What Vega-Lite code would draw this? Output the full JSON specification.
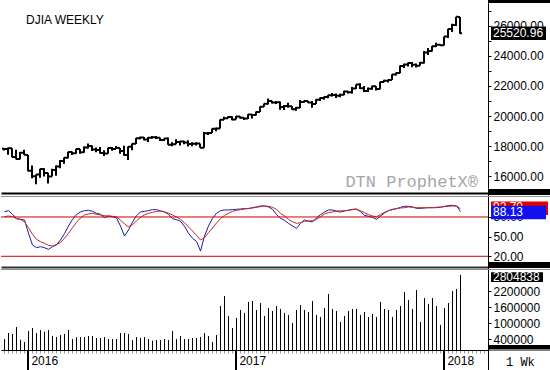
{
"$schema": "https://vega.github.io/schema/vega-lite/v6.json",
"padding": 0,
"spacing": 0,
"bounds": "flush",
"config": {"view": {"stroke": null}, "axis": {"labelFont": "Liberation Sans", "labelFontSize": 12, "labelColor": "#000", "domainColor": "#000", "tickColor": "#000", "grid": false}},
"data": {"values": [
{"d":"2015-11-23","o":17813,"h":17853,"l":17700,"c":17798,"v":410000,"k":88.1,"s":80.5},
{"d":"2015-11-30","o":17798,"h":17900,"l":17420,"c":17848,"v":634000,"k":89.7,"s":81.5},
{"d":"2015-12-07","o":17848,"h":17850,"l":17250,"c":17265,"v":597000,"k":84.1,"s":80.5},
{"d":"2015-12-14","o":17265,"h":17750,"l":17120,"c":17128,"v":858000,"k":77.5,"s":77.5},
{"d":"2015-12-21","o":17128,"h":17600,"l":17120,"c":17552,"v":385000,"k":76.4,"s":76.4},
{"d":"2015-12-28","o":17552,"h":17750,"l":17420,"c":17425,"v":299000,"k":75.4,"s":72.4},
{"d":"2016-01-04","o":17405,"h":17405,"l":16314,"c":16346,"v":709000,"k":55.1,"s":63.7},
{"d":"2016-01-11","o":16346,"h":16700,"l":15842,"c":15988,"v":821000,"k":37.2,"s":53.5},
{"d":"2016-01-18","o":15988,"h":16100,"l":15450,"c":16094,"v":634000,"k":33.2,"s":45.9},
{"d":"2016-01-25","o":16094,"h":16486,"l":15880,"c":16466,"v":746000,"k":34.7,"s":42.3},
{"d":"2016-02-01","o":16466,"h":16510,"l":15960,"c":16205,"v":684000,"k":33.2,"s":39.8},
{"d":"2016-02-08","o":16205,"h":16210,"l":15503,"c":15974,"v":746000,"k":30.6,"s":36.7},
{"d":"2016-02-15","o":15974,"h":16480,"l":15970,"c":16392,"v":522000,"k":34.7,"s":35.7},
{"d":"2016-02-22","o":16392,"h":16700,"l":16010,"c":16640,"v":485000,"k":37.7,"s":37.7},
{"d":"2016-02-29","o":16640,"h":17062,"l":16510,"c":17006,"v":560000,"k":44.9,"s":41.3},
{"d":"2016-03-07","o":17006,"h":17240,"l":16820,"c":17213,"v":597000,"k":54.6,"s":47.4},
{"d":"2016-03-14","o":17213,"h":17620,"l":17180,"c":17602,"v":746000,"k":66.2,"s":55.1},
{"d":"2016-03-21","o":17602,"h":17640,"l":17400,"c":17516,"v":410000,"k":76.4,"s":63.7},
{"d":"2016-03-28","o":17516,"h":17820,"l":17480,"c":17792,"v":473000,"k":83.6,"s":71.9},
{"d":"2016-04-04","o":17792,"h":17800,"l":17480,"c":17577,"v":485000,"k":87.6,"s":78.5},
{"d":"2016-04-11","o":17577,"h":17970,"l":17550,"c":17897,"v":485000,"k":89.7,"s":83.1},
{"d":"2016-04-18","o":17897,"h":18167,"l":17830,"c":18003,"v":522000,"k":90.2,"s":84.6},
{"d":"2016-04-25","o":18003,"h":18040,"l":17660,"c":17773,"v":522000,"k":88.6,"s":85.6},
{"d":"2016-05-02","o":17773,"h":17900,"l":17580,"c":17740,"v":448000,"k":85.6,"s":84.1},
{"d":"2016-05-09","o":17740,"h":17930,"l":17500,"c":17535,"v":448000,"k":84.1,"s":83.1},
{"d":"2016-05-16","o":17535,"h":17720,"l":17330,"c":17500,"v":485000,"k":79.0,"s":82.0},
{"d":"2016-05-23","o":17500,"h":17890,"l":17490,"c":17873,"v":410000,"k":81.5,"s":81.5},
{"d":"2016-05-30","o":17873,"h":17930,"l":17680,"c":17807,"v":410000,"k":80.5,"s":81.0},
{"d":"2016-06-06","o":17807,"h":18000,"l":17800,"c":17865,"v":410000,"k":78.5,"s":80.0},
{"d":"2016-06-13","o":17865,"h":17870,"l":17480,"c":17675,"v":634000,"k":66.2,"s":75.4},
{"d":"2016-06-20","o":17675,"h":18010,"l":17356,"c":17400,"v":634000,"k":51.0,"s":69.3},
{"d":"2016-06-27","o":17400,"h":17960,"l":17063,"c":17949,"v":597000,"k":60.1,"s":65.2},
{"d":"2016-07-04","o":17949,"h":18170,"l":17710,"c":18147,"v":373000,"k":72.4,"s":68.3},
{"d":"2016-07-11","o":18147,"h":18540,"l":18140,"c":18516,"v":485000,"k":82.0,"s":73.9},
{"d":"2016-07-18","o":18516,"h":18620,"l":18450,"c":18571,"v":448000,"k":87.6,"s":79.5},
{"d":"2016-07-25","o":18571,"h":18600,"l":18380,"c":18432,"v":485000,"k":88.6,"s":83.1},
{"d":"2016-08-01","o":18432,"h":18600,"l":18260,"c":18544,"v":410000,"k":89.7,"s":85.6},
{"d":"2016-08-08","o":18544,"h":18670,"l":18500,"c":18577,"v":348000,"k":91.2,"s":87.1},
{"d":"2016-08-15","o":18577,"h":18670,"l":18470,"c":18553,"v":373000,"k":91.2,"s":88.6},
{"d":"2016-08-22","o":18553,"h":18570,"l":18330,"c":18395,"v":373000,"k":89.2,"s":89.2},
{"d":"2016-08-29","o":18395,"h":18500,"l":18330,"c":18492,"v":410000,"k":87.6,"s":88.1},
{"d":"2016-09-05","o":18492,"h":18560,"l":18080,"c":18085,"v":373000,"k":84.1,"s":85.6},
{"d":"2016-09-12","o":18085,"h":18250,"l":17990,"c":18124,"v":709000,"k":77.5,"s":83.1},
{"d":"2016-09-19","o":18124,"h":18450,"l":18110,"c":18262,"v":410000,"k":75.9,"s":80.0},
{"d":"2016-09-26","o":18262,"h":18350,"l":18030,"c":18308,"v":522000,"k":73.4,"s":76.4},
{"d":"2016-10-03","o":18308,"h":18350,"l":18120,"c":18240,"v":410000,"k":65.7,"s":71.3},
{"d":"2016-10-10","o":18240,"h":18390,"l":17960,"c":18138,"v":410000,"k":55.1,"s":64.7},
{"d":"2016-10-17","o":18138,"h":18250,"l":17990,"c":18145,"v":448000,"k":47.4,"s":58.6},
{"d":"2016-10-24","o":18145,"h":18250,"l":18040,"c":18161,"v":448000,"k":42.8,"s":52.0},
{"d":"2016-10-31","o":18161,"h":18170,"l":17880,"c":17888,"v":485000,"k":28.1,"s":44.9},
{"d":"2016-11-07","o":17888,"h":18934,"l":17880,"c":18847,"v":634000,"k":51.0,"s":48.4},
{"d":"2016-11-14","o":18847,"h":18930,"l":18740,"c":18868,"v":522000,"k":66.2,"s":56.1},
{"d":"2016-11-21","o":18868,"h":19165,"l":18860,"c":19152,"v":299000,"k":78.0,"s":63.2},
{"d":"2016-11-28","o":19152,"h":19225,"l":18980,"c":19171,"v":560000,"k":85.6,"s":70.8},
{"d":"2016-12-05","o":19171,"h":19760,"l":19160,"c":19757,"v":1642000,"k":89.7,"s":77.5},
{"d":"2016-12-12","o":19757,"h":19953,"l":19750,"c":19843,"v":2015000,"k":90.7,"s":82.5},
{"d":"2016-12-19","o":19843,"h":19987,"l":19840,"c":19934,"v":1269000,"k":90.7,"s":85.6},
{"d":"2016-12-26","o":19934,"h":19980,"l":19720,"c":19763,"v":821000,"k":91.2,"s":88.6},
{"d":"2017-01-02","o":19763,"h":19999,"l":19760,"c":19964,"v":1194000,"k":91.7,"s":90.2},
{"d":"2017-01-09","o":19964,"h":19990,"l":19830,"c":19886,"v":1493000,"k":92.2,"s":91.2},
{"d":"2017-01-16","o":19886,"h":19890,"l":19730,"c":19827,"v":1381000,"k":92.7,"s":92.2},
{"d":"2017-01-23","o":19827,"h":20125,"l":19800,"c":20094,"v":1791000,"k":92.7,"s":93.2},
{"d":"2017-01-30","o":20094,"h":20100,"l":19830,"c":20071,"v":1828000,"k":94.2,"s":93.7},
{"d":"2017-02-06","o":20071,"h":20298,"l":20040,"c":20269,"v":1493000,"k":95.3,"s":94.8},
{"d":"2017-02-13","o":20269,"h":20639,"l":20260,"c":20624,"v":1754000,"k":96.8,"s":95.8},
{"d":"2017-02-20","o":20624,"h":20840,"l":20620,"c":20822,"v":1269000,"k":96.8,"s":96.8},
{"d":"2017-02-27","o":20822,"h":21169,"l":20770,"c":21005,"v":1567000,"k":95.3,"s":96.3},
{"d":"2017-03-06","o":21005,"h":21010,"l":20830,"c":20903,"v":1455000,"k":91.7,"s":94.8},
{"d":"2017-03-13","o":20903,"h":21000,"l":20800,"c":20914,"v":1642000,"k":83.6,"s":91.7},
{"d":"2017-03-20","o":20914,"h":20960,"l":20410,"c":20597,"v":1530000,"k":78.0,"s":85.6},
{"d":"2017-03-27","o":20597,"h":20740,"l":20400,"c":20663,"v":1381000,"k":74.9,"s":81.5},
{"d":"2017-04-03","o":20663,"h":20890,"l":20550,"c":20656,"v":1306000,"k":70.3,"s":76.4},
{"d":"2017-04-10","o":20656,"h":20670,"l":20410,"c":20453,"v":1007000,"k":66.2,"s":72.9},
{"d":"2017-04-17","o":20453,"h":20600,"l":20350,"c":20548,"v":1493000,"k":62.7,"s":70.3},
{"d":"2017-04-24","o":20548,"h":21070,"l":20540,"c":20941,"v":1679000,"k":70.3,"s":71.3},
{"d":"2017-05-01","o":20941,"h":21030,"l":20880,"c":21007,"v":1493000,"k":75.4,"s":73.4},
{"d":"2017-05-08","o":21007,"h":21010,"l":20860,"c":20897,"v":1418000,"k":73.4,"s":73.9},
{"d":"2017-05-15","o":20897,"h":21000,"l":20550,"c":20804,"v":1828000,"k":72.4,"s":74.4},
{"d":"2017-05-22","o":20804,"h":21110,"l":20800,"c":21080,"v":1306000,"k":78.5,"s":76.4},
{"d":"2017-05-29","o":21080,"h":21230,"l":21000,"c":21206,"v":1231000,"k":83.6,"s":80.5},
{"d":"2017-06-05","o":21206,"h":21305,"l":21090,"c":21272,"v":1567000,"k":87.6,"s":84.6},
{"d":"2017-06-12","o":21272,"h":21400,"l":21180,"c":21384,"v":2090000,"k":90.7,"s":86.6},
{"d":"2017-06-19","o":21384,"h":21530,"l":21300,"c":21395,"v":1530000,"k":90.7,"s":87.6},
{"d":"2017-06-26","o":21395,"h":21500,"l":21200,"c":21350,"v":1455000,"k":88.6,"s":89.2},
{"d":"2017-07-03","o":21350,"h":21480,"l":21250,"c":21414,"v":1045000,"k":87.6,"s":89.2},
{"d":"2017-07-10","o":21414,"h":21680,"l":21380,"c":21638,"v":1269000,"k":89.2,"s":89.7},
{"d":"2017-07-17","o":21638,"h":21640,"l":21500,"c":21580,"v":1455000,"k":90.2,"s":90.2},
{"d":"2017-07-24","o":21580,"h":21929,"l":21500,"c":21830,"v":1530000,"k":91.7,"s":91.2},
{"d":"2017-07-31","o":21830,"h":22100,"l":21800,"c":22092,"v":1530000,"k":92.2,"s":91.7},
{"d":"2017-08-07","o":22092,"h":22180,"l":21800,"c":21858,"v":1306000,"k":88.1,"s":89.7},
{"d":"2017-08-14","o":21858,"h":22000,"l":21600,"c":21675,"v":1418000,"k":82.5,"s":86.6},
{"d":"2017-08-21","o":21675,"h":21900,"l":21600,"c":21814,"v":1231000,"k":81.0,"s":83.6},
{"d":"2017-08-28","o":21814,"h":22010,"l":21750,"c":21988,"v":1343000,"k":79.5,"s":81.5},
{"d":"2017-09-04","o":21988,"h":21990,"l":21700,"c":21798,"v":1231000,"k":76.4,"s":80.5},
{"d":"2017-09-11","o":21798,"h":22290,"l":21790,"c":22268,"v":1791000,"k":81.5,"s":83.6},
{"d":"2017-09-18","o":22268,"h":22420,"l":22250,"c":22350,"v":1530000,"k":86.1,"s":87.1},
{"d":"2017-09-25","o":22350,"h":22420,"l":22240,"c":22405,"v":1493000,"k":89.7,"s":89.7},
{"d":"2017-10-02","o":22405,"h":22780,"l":22400,"c":22773,"v":1231000,"k":91.7,"s":91.2},
{"d":"2017-10-09","o":22773,"h":22905,"l":22700,"c":22871,"v":1493000,"k":92.7,"s":92.7},
{"d":"2017-10-16","o":22871,"h":23370,"l":22850,"c":23329,"v":1642000,"k":94.8,"s":93.7},
{"d":"2017-10-23","o":23329,"h":23485,"l":23200,"c":23434,"v":2164000,"k":96.3,"s":94.2},
{"d":"2017-10-30","o":23434,"h":23560,"l":23300,"c":23539,"v":1866000,"k":96.3,"s":95.3},
{"d":"2017-11-06","o":23539,"h":23600,"l":23250,"c":23422,"v":1530000,"k":95.3,"s":94.8},
{"d":"2017-11-13","o":23422,"h":23500,"l":23240,"c":23358,"v":2239000,"k":93.2,"s":94.2},
{"d":"2017-11-20","o":23358,"h":23600,"l":23350,"c":23558,"v":1045000,"k":93.2,"s":94.2},
{"d":"2017-11-27","o":23558,"h":24330,"l":23500,"c":24231,"v":1940000,"k":93.7,"s":94.2},
{"d":"2017-12-04","o":24231,"h":24534,"l":24060,"c":24329,"v":1716000,"k":94.2,"s":94.2},
{"d":"2017-12-11","o":24329,"h":24670,"l":24300,"c":24651,"v":1940000,"k":94.2,"s":94.2},
{"d":"2017-12-18","o":24651,"h":24876,"l":24600,"c":24754,"v":1642000,"k":94.2,"s":94.8},
{"d":"2017-12-25","o":24754,"h":24800,"l":24700,"c":24719,"v":933000,"k":94.8,"s":95.3},
{"d":"2018-01-01","o":24719,"h":25300,"l":24700,"c":25295,"v":1567000,"k":96.3,"s":95.8},
{"d":"2018-01-08","o":25295,"h":25810,"l":25200,"c":25803,"v":1754000,"k":97.3,"s":96.3},
{"d":"2018-01-15","o":25803,"h":26153,"l":25600,"c":26071,"v":2201000,"k":97.8,"s":96.8},
{"d":"2018-01-22","o":26071,"h":26617,"l":26000,"c":26616,"v":2276000,"k":96.8,"s":96.8},
{"d":"2018-01-29","o":26597,"h":26608,"l":25490,"c":25520.96,"v":2804838,"k":88.13,"s":92.7}
]},
"vconcat": [
{
 "width": 487, "height": 193,
 "resolve": {"axis": {"x": "independent", "y": "independent"}},
 "layer": [
  {"mark": {"type": "rule", "xOffset": -0.5, "strokeWidth": 2, "color": "#000"},
   "encoding": {
    "x": {"field": "d", "type": "temporal", "scale": {"type": "utc", "domain": [1447707600000, 1521342000000]}, "axis": {"orient": "bottom", "title": null, "labels": false, "ticks": false, "domain": true, "domainWidth": 2, "domainColor": "#000"}},
    "y": {"field": "l", "type": "quantitative", "scale": {"domain": [14866.67, 27733.33], "nice": false, "zero": false}, "axis": {"orient": "right", "title": null, "values": [15000,16000,17000,18000,19000,20000,21000,22000,23000,24000,25000,26000,27000], "labelExpr": "datum.value % 2000 === 0 ? format(datum.value, '.2f') : ''", "tickSize": 3, "labelPadding": 2, "labelOverlap": false}},
    "y2": {"field": "h"}
   }},
  {"mark": {"type": "rule", "xOffset": -0.5, "x2Offset": 1.5, "strokeWidth": 2, "color": "#000"},
   "encoding": {
    "x": {"field": "d", "type": "temporal", "axis": null},
    "x2": {"field": "d"},
    "y": {"field": "c", "type": "quantitative", "axis": null}
   }},
  {"mark": {"type": "rule", "xOffset": -2.5, "x2Offset": -0.5, "strokeWidth": 2, "color": "#000"},
   "encoding": {
    "x": {"field": "d", "type": "temporal", "axis": null},
    "x2": {"field": "d"},
    "y": {"field": "o", "type": "quantitative", "axis": null}
   }},
  {"data": {"values": [{}]},
   "mark": {"type": "rect", "color": "#000"},
   "encoding": {
    "x": {"datum": 1521342000000, "type": "temporal", "axis": null}, "x2": {"datum": 1530867600000},
    "y": {"datum": 27733.33, "type": "quantitative", "axis": null}, "y2": {"datum": 27533.33}
   }},
  {"data": {"values": [{}]},
   "mark": {"type": "rect", "color": "#000"},
   "encoding": {
    "x": {"datum": 1521342000000, "type": "temporal", "axis": null}, "x2": {"datum": 1530867600000},
    "y": {"datum": 15133.33, "type": "quantitative", "axis": null}, "y2": {"datum": 14866.67}
   }},
  {"data": {"values": [{}]},
   "mark": {"type": "rect", "color": "#000"},
   "encoding": {
    "x": {"datum": 1521795600000, "type": "temporal", "axis": null}, "x2": {"datum": 1530111600000},
    "y": {"datum": 25966.67, "type": "quantitative", "axis": null}, "y2": {"datum": 25066.67}
   }},
  {"data": {"values": [{}]},
   "mark": {"type": "text", "text": "25520.96", "color": "#fff", "align": "left", "baseline": "middle", "font": "Liberation Sans", "fontSize": 12},
   "encoding": {
    "x": {"datum": 1522098000000, "type": "temporal", "axis": null},
    "y": {"datum": 25520.96, "type": "quantitative", "axis": null}
   }},
  {"data": {"values": [{}]},
   "mark": {"type": "text", "text": "DJIA WEEKLY", "color": "#000", "align": "left", "baseline": "middle", "font": "Liberation Sans", "fontSize": 12},
   "encoding": {
    "x": {"datum": 1451487600000, "type": "temporal", "axis": null},
    "y": {"datum": 26400, "type": "quantitative", "axis": null}
   }},
  {"data": {"values": [{}]},
   "mark": {"type": "text", "text": "DTN ProphetX®", "color": "#a6a6a6", "align": "right", "baseline": "middle", "font": "Liberation Mono", "fontSize": 17},
   "encoding": {
    "x": {"datum": 1519830000000, "type": "temporal", "axis": null},
    "y": {"datum": 15600, "type": "quantitative", "axis": null}
   }}
 ]
},
{
 "width": 487, "height": 74,
 "resolve": {"axis": {"x": "independent", "y": "independent"}},
 "layer": [
  {"mark": {"type": "line", "color": "#1a1aa6", "strokeWidth": 1},
   "encoding": {
    "x": {"field": "d", "type": "temporal", "scale": {"type": "utc", "domain": [1447707600000, 1521342000000]}, "axis": {"orient": "bottom", "title": null, "labels": false, "ticks": false, "domain": true, "domainWidth": 2, "domainColor": "#333"}},
    "y": {"field": "k", "type": "quantitative", "scale": {"domain": [3.66, 116.6], "nice": false, "zero": false}, "axis": {"orient": "right", "title": null, "values": [20, 50, 80], "format": ".2f", "tickSize": 3, "labelPadding": 2, "labelOverlap": false}}
   }},
  {"mark": {"type": "line", "color": "#c8281e", "strokeWidth": 1},
   "encoding": {
    "x": {"field": "d", "type": "temporal", "axis": null},
    "y": {"field": "s", "type": "quantitative", "axis": null}
   }},
  {"data": {"values": [{}]},
   "mark": {"type": "rule", "color": "#909090", "strokeWidth": 1},
   "encoding": {
    "x": {"datum": 1447707600000, "type": "temporal", "axis": null}, "x2": {"datum": 1530867600000},
    "y": {"datum": 111.26, "type": "quantitative", "axis": null}
   }},
  {"data": {"values": [{}]},
   "mark": {"type": "rule", "color": "#d00000", "strokeWidth": 1},
   "encoding": {
    "x": {"datum": 1447707600000, "type": "temporal", "axis": null}, "x2": {"datum": 1521342000000},
    "y": {"datum": 80, "type": "quantitative", "axis": null}
   }},
  {"data": {"values": [{}]},
   "mark": {"type": "rule", "color": "#d00000", "strokeWidth": 1},
   "encoding": {
    "x": {"datum": 1447707600000, "type": "temporal", "axis": null}, "x2": {"datum": 1521342000000},
    "y": {"datum": 20, "type": "quantitative", "axis": null}
   }},
  {"data": {"values": [{}]},
   "mark": {"type": "rect", "color": "#000"},
   "encoding": {
    "x": {"datum": 1521342000000, "type": "temporal", "axis": null}, "x2": {"datum": 1530867600000},
    "y": {"datum": 116.6, "type": "quantitative", "axis": null}, "y2": {"datum": 113.55}
   }},
  {"data": {"values": [{}]},
   "mark": {"type": "rect", "color": "#000"},
   "encoding": {
    "x": {"datum": 1521342000000, "type": "temporal", "axis": null}, "x2": {"datum": 1530867600000},
    "y": {"datum": 11.29, "type": "quantitative", "axis": null}, "y2": {"datum": 3.66}
   }},
  {"data": {"values": [{}]},
   "mark": {"type": "rect", "color": "#e00000"},
   "encoding": {
    "x": {"datum": 1521795600000, "type": "temporal", "axis": null}, "x2": {"datum": 1530414000000},
    "y": {"datum": 103.63, "type": "quantitative", "axis": null}, "y2": {"datum": 83.02}
   }},
  {"data": {"values": [{}]},
   "mark": {"type": "text", "text": "92.70", "color": "#fff", "align": "left", "baseline": "middle", "font": "Liberation Sans", "fontSize": 12},
   "encoding": {
    "x": {"datum": 1522098000000, "type": "temporal", "axis": null},
    "y": {"datum": 95.5, "type": "quantitative", "axis": null}
   }},
  {"data": {"values": [{}]},
   "mark": {"type": "rect", "color": "#1010f0"},
   "encoding": {
    "x": {"datum": 1521795600000, "type": "temporal", "axis": null}, "x2": {"datum": 1530111600000},
    "y": {"datum": 97.22, "type": "quantitative", "axis": null}, "y2": {"datum": 76.46}
   }},
  {"data": {"values": [{}]},
   "mark": {"type": "text", "text": "88.13", "color": "#fff", "align": "left", "baseline": "middle", "font": "Liberation Sans", "fontSize": 12},
   "encoding": {
    "x": {"datum": 1522098000000, "type": "temporal", "axis": null},
    "y": {"datum": 86.84, "type": "quantitative", "axis": null}
   }}
 ]
},
{
 "width": 487, "height": 83,
 "resolve": {"axis": {"x": "independent", "y": "independent"}},
 "layer": [
  {"mark": {"type": "rule", "color": "#000", "strokeWidth": 1},
   "encoding": {
    "x": {"field": "d", "type": "temporal", "scale": {"type": "utc", "domain": [1447707600000, 1521342000000]}, "axis": {"orient": "bottom", "title": null,
      "values": [1448150400000,1448755200000,1449360000000,1449964800000,1450569600000,1451174400000,1451779200000,1452384000000,1452988800000,1453593600000,1454198400000,1454803200000,1455408000000,1456012800000,1456617600000,1457222400000,1457827200000,1458432000000,1459036800000,1459641600000,1460246400000,1460851200000,1461456000000,1462060800000,1462665600000,1463270400000,1463875200000,1464480000000,1465084800000,1465689600000,1466294400000,1466899200000,1467504000000,1468108800000,1468713600000,1469318400000,1469923200000,1470528000000,1471132800000,1471737600000,1472342400000,1472947200000,1473552000000,1474156800000,1474761600000,1475366400000,1475971200000,1476576000000,1477180800000,1477785600000,1478390400000,1478995200000,1479600000000,1480204800000,1480809600000,1481414400000,1482019200000,1482624000000,1483228800000,1483833600000,1484438400000,1485043200000,1485648000000,1486252800000,1486857600000,1487462400000,1488067200000,1488672000000,1489276800000,1489881600000,1490486400000,1491091200000,1491696000000,1492300800000,1492905600000,1493510400000,1494115200000,1494720000000,1495324800000,1495929600000,1496534400000,1497139200000,1497744000000,1498348800000,1498953600000,1499558400000,1500163200000,1500768000000,1501372800000,1501977600000,1502582400000,1503187200000,1503792000000,1504396800000,1505001600000,1505606400000,1506211200000,1506816000000,1507420800000,1508025600000,1508630400000,1509235200000,1509840000000,1510444800000,1511049600000,1511654400000,1512259200000,1512864000000,1513468800000,1514073600000,1514678400000,1515283200000,1515888000000,1516492800000,1517097600000,1517702400000,1518307200000,1518912000000,1519516800000,1520121600000,1520726400000],
      "labelExpr": "utcmonth(time(datum.value) + 86400000) == 0 && utcdate(time(datum.value) + 86400000) <= 7 ? utcFormat(time(datum.value) + 86400000, '%Y') : ''",
      "tickSize": 3, "tickColor": "#9a9a9a", "tickWidth": 1, "labelAlign": "left", "labelOffset": 3, "labelPadding": 2, "labelOverlap": false, "labelFlush": false, "labelBound": false, "domainColor": "#000", "domainWidth": 1}},
    "y": {"field": "v", "type": "quantitative", "scale": {"domain": [0, 3097015], "nice": false, "zero": false}, "axis": {"orient": "right", "title": null, "values": [400000, 1000000, 1600000, 2200000], "format": "d", "tickSize": 3, "labelPadding": 2, "labelOverlap": false}},
    "y2": {"datum": 0}
   }},
  {"data": {"values": [{}]},
   "mark": {"type": "rule", "color": "#909090", "strokeWidth": 1},
   "encoding": {
    "x": {"datum": 1447707600000, "type": "temporal", "axis": null}, "x2": {"datum": 1530867600000},
    "y": {"datum": 3003731, "type": "quantitative", "axis": null}
   }},
  {"data": {"values": [{}]},
   "mark": {"type": "rule", "color": "#000", "strokeWidth": 1},
   "encoding": {
    "x": {"datum": 1521342000000, "type": "temporal", "axis": null}, "x2": {"datum": 1530867600000},
    "y": {"datum": 0, "type": "quantitative", "axis": null}
   }},
  {"data": {"values": [{}]},
   "mark": {"type": "rect", "color": "#000"},
   "encoding": {
    "x": {"datum": 1521342000000, "type": "temporal", "axis": null}, "x2": {"datum": 1530867600000},
    "y": {"datum": 3097015, "type": "quantitative", "axis": null}, "y2": {"datum": 3059701}
   }},
  {"data": {"values": [{}]},
   "mark": {"type": "rect", "color": "#000"},
   "encoding": {
    "x": {"datum": 1521342000000, "type": "temporal", "axis": null}, "x2": {"datum": 1530867600000},
    "y": {"datum": 186567, "type": "quantitative", "axis": null}, "y2": {"datum": 37313}
   }},
  {"data": {"values": [{}]},
   "mark": {"type": "rect", "color": "#000"},
   "encoding": {
    "x": {"datum": 1521795600000, "type": "temporal", "axis": null}, "x2": {"datum": 1529658000000},
    "y": {"datum": 2899254, "type": "quantitative", "axis": null}, "y2": {"datum": 2537313}
   }},
  {"data": {"values": [{}]},
   "mark": {"type": "text", "text": "2804838", "color": "#fff", "align": "left", "baseline": "middle", "font": "Liberation Sans", "fontSize": 12},
   "encoding": {
    "x": {"datum": 1522098000000, "type": "temporal", "axis": null},
    "y": {"datum": 2716420, "type": "quantitative", "axis": null}
   }},
  {"transform": [{"filter": "utcmonth(datum.d) == 0 && utcdate(datum.d) <= 7"}],
   "mark": {"type": "rule", "color": "#000", "strokeWidth": 2, "xOffset": -0.5},
   "encoding": {
    "x": {"field": "d", "type": "temporal", "axis": null},
    "y": {"datum": 0, "type": "quantitative", "axis": null}, "y2": {"datum": -746269}
   }},
  {"data": {"values": [{}]},
   "mark": {"type": "rule", "color": "#000", "strokeWidth": 1, "xOffset": 0.5},
   "encoding": {
    "x": {"datum": 1521342000000, "type": "temporal", "axis": null},
    "y": {"datum": 0, "type": "quantitative", "axis": null}, "y2": {"datum": -746269}
   }},
  {"data": {"values": [{}]},
   "mark": {"type": "text", "text": "1 Wk", "color": "#000", "align": "left", "baseline": "middle", "font": "Liberation Mono", "fontSize": 12},
   "encoding": {
    "x": {"datum": 1524063600000, "type": "temporal", "axis": null},
    "y": {"datum": -447761, "type": "quantitative", "axis": null}
   }}
 ]
}
]
}
